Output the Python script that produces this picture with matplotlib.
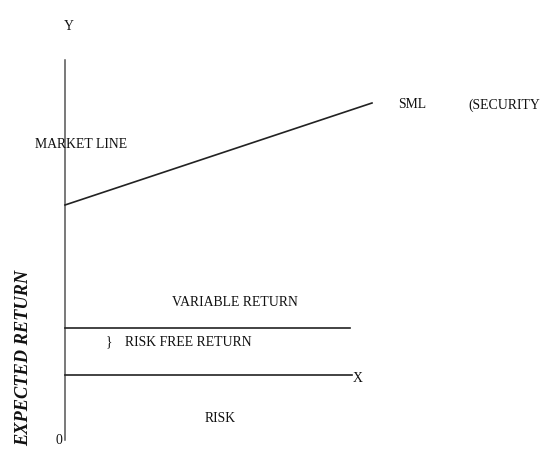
import matplotlib
matplotlib.use("Agg")
import matplotlib.pyplot as plt

# Diagram geometry (in image-like units: x to the right, y downward)
y_axis_x = [65, 65]
y_axis_y = [60, 440]
sml_x = [65, 372]
sml_y = [205, 103]
rf_line_x = [65, 350]
rf_line_y = [328, 328]
x_axis_x = [65, 352]
x_axis_y = [375, 375]

labels = ["Y", "MARKET LINE", "SML", "(SECURITY", "VARIABLE RETURN",
          "}", "RISK FREE RETURN", "X", "RISK", "0"]
label_x = [64, 35, 398, 468, 172, 106, 125, 353, 205, 56]
label_y = [27, 145, 105, 105, 302, 342, 342, 379, 419, 441]

fig = plt.figure(figsize=(5.47, 4.5), dpi=100)
ax = fig.add_axes([0, 0, 1, 1])
ax.set_xlim(0, 547)
ax.set_ylim(450, 0)
ax.axis("off")

lc = "#222222"
ax.plot(y_axis_x, y_axis_y, color="#555555", lw=1.1)
ax.plot(sml_x, sml_y, color=lc, lw=1.2)
ax.plot(rf_line_x, rf_line_y, color=lc, lw=1.2)
ax.plot(x_axis_x, x_axis_y, color=lc, lw=1.2)

font = "Liberation Serif"
for t, x, y in zip(labels, label_x, label_y):
    ax.text(x, y, t, family=font, fontsize=9.9, ha="left", va="center",
            color="#111111")

ax.text(24, 358, "EXPECTED RETURN", family=font, fontsize=13.2, weight="bold",
        style="italic", rotation=90, ha="center", va="center", color="#111111")

fig.savefig("out.png", dpi=100)
